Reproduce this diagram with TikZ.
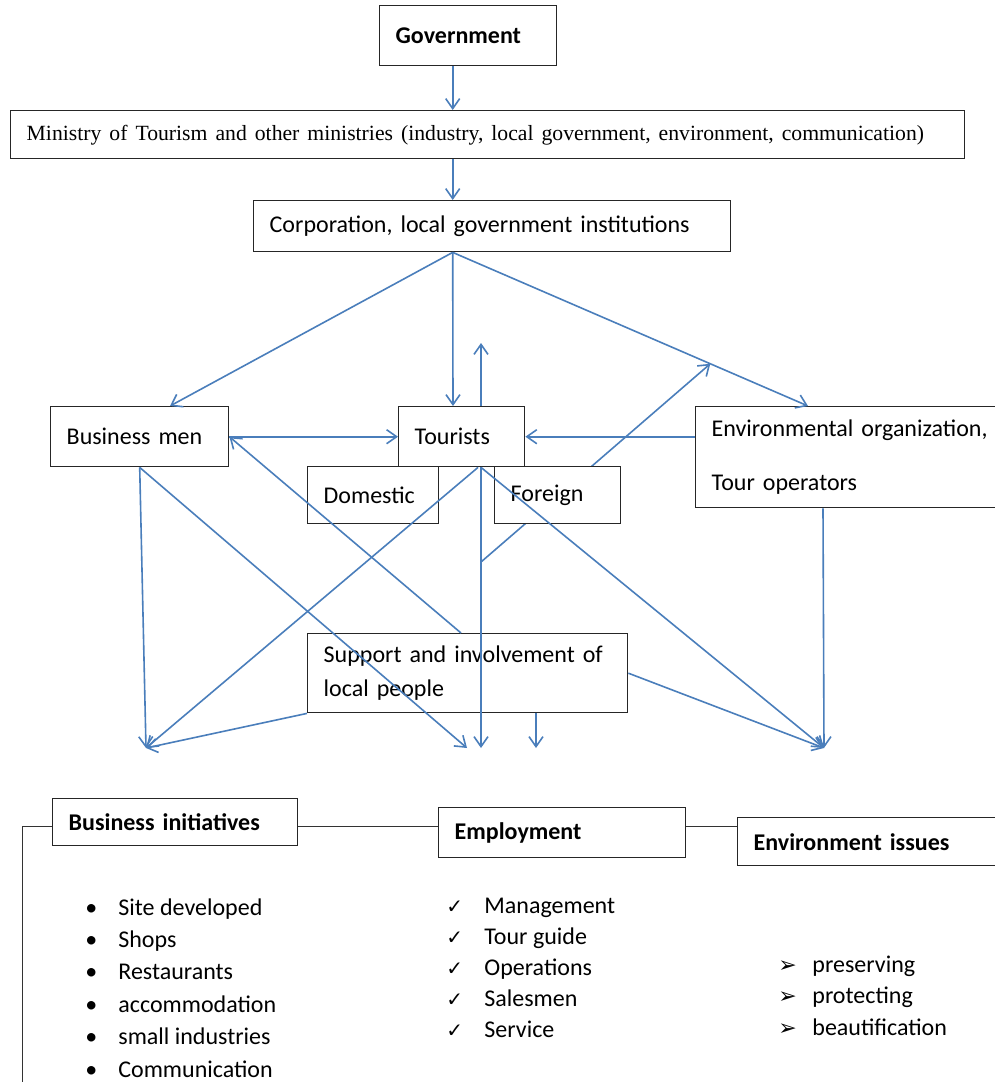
\documentclass[tikz,border=0pt]{standalone}
\usepackage{fontspec}
\setmainfont{Carlito}
\newfontfamily\timesfont{Liberation Serif}
\newfontfamily\symfont{DejaVu Sans}
\usetikzlibrary{arrows.meta,calc}
\definecolor{lineblue}{RGB}{74,126,187}
\tikzset{
    box/.style={draw=black!85, line width=0.7pt, fill=white, anchor=north west,
        inner xsep=8pt, inner ysep=0pt, align=left, font=\fontsize{12pt}{14.5pt}\selectfont},
    arr/.style={draw=lineblue, line width=0.8pt, -{Straight Barb[length=5pt,width=7pt]}},
    link/.style={draw=black!80, line width=0.5pt},
    item/.style={anchor=base west, inner sep=0pt, font=\fontsize{12pt}{14.5pt}\selectfont}
}
\begin{document}
\begin{tikzpicture}[x=0.5pt,y=-0.5pt]
    \useasboundingbox (0,0) rectangle (995,1082);

    \node[box, text width=72.5pt, minimum height=30pt] (gov) at (379,5) {\textbf{Government}};
    \node[box, text width=461pt, minimum height=24pt] (min) at (10,110)
        {\timesfont\fontsize{10.85pt}{13pt}\selectfont Ministry of Tourism and other ministries (industry, local government, environment, communication)};
    \node[box, text width=222.5pt, minimum height=25.5pt] (corp) at (253,200) {Corporation, local government institutions};
    \node[box, text width=73pt, minimum height=30pt] (busmen) at (50,406) {Business men};
    \node[box, text width=47pt, minimum height=30pt] (tour) at (398,406) {Tourists};
    \node[box, text width=154pt, minimum height=50.5pt] (env) at (695,406)
        {Environmental organization,\\[12.5pt]Tour operators};

    \coordinate (cb) at ([xshift=-19.75pt]corp.south);
    \coordinate (et) at ([xshift=56.5pt]env.north west);
    \coordinate (j) at ($(cb)!.725!(et)$);
    \coordinate (fs) at (481,562);
    \coordinate (tup) at (481,343);
    \coordinate (a1) at (146,748);
    \coordinate (a2) at (467,748);
    \coordinate (a3) at (481,748);
    \coordinate (a4) at (536,748);
    \coordinate (a5) at (824,748);

    \draw[arr] (fs) -- (j);

    \node[box, text width=49.5pt, minimum height=28.5pt] (dom) at (307,466) {Domestic};
    \node[box, text width=47pt, minimum height=28.5pt] (for) at (494,466) {Foreign};
    \node[box, text width=144pt, minimum height=39.5pt] (sup) at (307,633)
        {Support and involvement of\\[2.5pt]local people};

    \draw[arr] ([xshift=-7.75pt]gov.south) -- ([xshift=-7.75pt]gov.south |- min.north);
    \draw[arr] (cb |- min.south) -- (cb |- corp.north);
    \draw[arr] (cb) -- ([xshift=60pt]busmen.north west);
    \draw[arr] (cb) -- ([xshift=27.5pt]tour.north west);
    \draw[arr] (cb) -- (et);
    \draw[arr] ([xshift=41.5pt]tour.north west) -- (tup);
    \draw[arr] (busmen.east) -- (tour.west);
    \draw[arr] (env.west |- tour.east) -- (tour.east);
    \draw[arr] ([xshift=77pt]sup.north west) -- (busmen.east);
    \draw[arr] (busmen.south) -- (a1);
    \draw[arr] (busmen.south) -- (a2);
    \draw[arr] ([xshift=40pt]tour.south west) -- (a1);
    \draw[arr] ([xshift=41.5pt]tour.south west) -- (a3);
    \draw[arr] ([xshift=41.5pt]tour.south west) -- (a5);
    \draw[arr] (sup.south west) -- (a1);
    \draw[arr] (a4 |- sup.south) -- (a4);
    \draw[arr] (sup.east) -- (a5);
    \draw[arr] ([xshift=64pt]env.south west) -- (a5);

    \node[box, text width=106.5pt, minimum height=23.5pt] (bi) at (52,798) {\textbf{Business initiatives}};
    \node[box, text width=107.5pt, minimum height=25pt] (emp) at (438,807) {\textbf{Employment}};
    \node[box, text width=134pt, minimum height=24pt] (ei) at (737,817) {\textbf{Environment issues}};

    \coordinate (lb) at (22,1090);
    \coordinate (row) at (22,826);
    \draw[link] (lb) -- (row) -- (row -| bi.west);
    \draw[link] (row -| bi.east) -- (row -| emp.west);
    \draw[link] (row -| emp.east) -- (row -| ei.west);

    \foreach \t [count=\i from 0] in {Site developed,Shops,Restaurants,accommodation,small industries,Communication}
        {\node[item] (bilist\i) at (85,{915+32.4*\i}) {\makebox[16.5pt][l]{•}\t};}
    \foreach \t [count=\i from 0] in {Management,Tour guide,Operations,Salesmen,Service}
        {\node[item] (emlist\i) at (446,{913+31*\i}) {\makebox[19pt][l]{\symfont\fontsize{10pt}{12pt}\selectfont ✓}\t};}
    \foreach \t [count=\i from 0] in {preserving,protecting,beautification}
        {\node[item] (eilist\i) at (778,{972+31.5*\i}) {\makebox[17pt][l]{\symfont\fontsize{11pt}{13pt}\selectfont ➢}\t};}
\end{tikzpicture}
\end{document}
